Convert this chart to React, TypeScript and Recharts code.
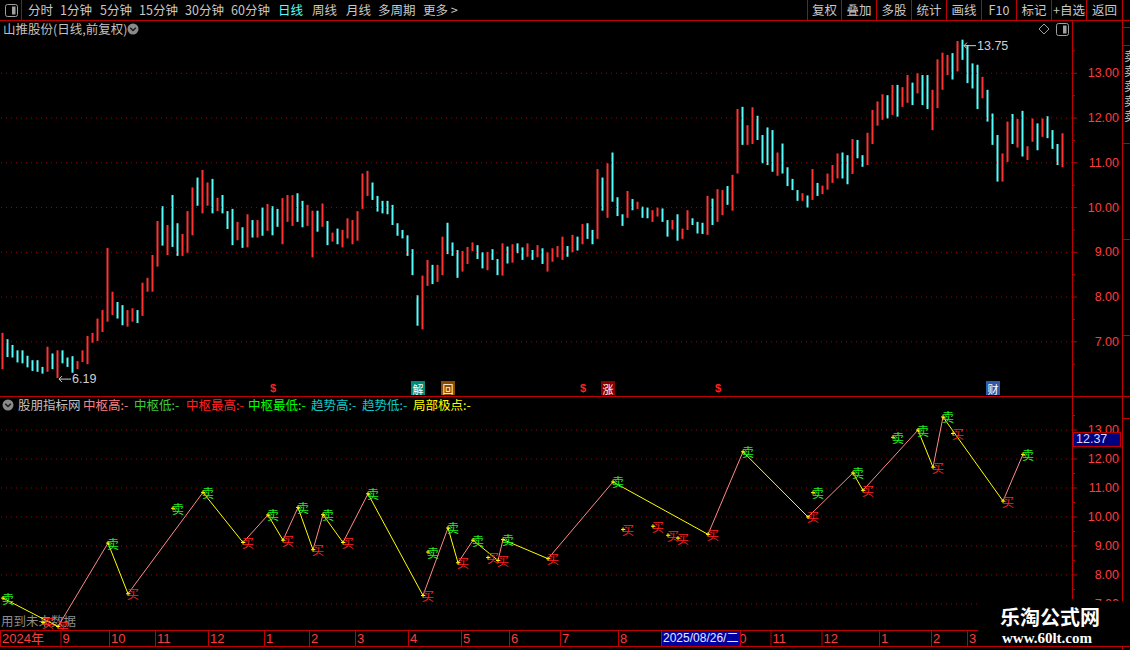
import React from 'react';
import { Bar, ComposedChart, Line, ReferenceLine, Scatter, XAxis, YAxis } from 'recharts';

// daily bars, two trading days per slot
const highs = [
  7.2, 7.06, 6.93, 6.81, 6.81, 6.69, 6.59, 6.59, 6.44, 6.89,
  6.74, 6.81, 6.81, 6.65, 6.68, 6.57, 6.81, 7.13, 7.2, 7.52,
  7.71, 9.1, 8.12, 7.89, 7.82, 7.71, 7.75, 7.71, 8.32, 8.43,
  8.94, 9.7, 10.03, 9.61, 10.28, 9.65, 9.41, 9.92, 10.45, 10.67,
  10.84, 10.56, 10.64, 10.22, 10.28, 9.92, 9.97, 9.68, 9.56, 9.85,
  9.72, 9.72, 10.0, 10.08, 10.03, 9.97, 10.21, 10.28, 10.28, 10.32,
  10.15, 10.06, 9.93, 9.93, 10.09, 9.7, 9.44, 9.53, 9.5, 9.76,
  9.72, 9.92, 10.76, 10.82, 10.56, 10.26, 10.15, 10.15, 10.06, 9.65,
  9.5, 9.38, 9.07, 8.04, 8.48, 8.83, 8.72, 8.72, 9.35, 9.66,
  9.22, 9.05, 9.03, 9.12, 9.22, 9.16, 9.0, 9.01, 9.07, 8.85,
  9.2, 9.13, 9.18, 9.2, 9.11, 9.2, 9.05, 9.16, 9.09, 9.0,
  9.09, 9.14, 9.35, 9.14, 9.39, 9.35, 9.63, 9.65, 9.5, 10.86,
  10.67, 10.99, 11.23, 10.23, 9.85, 10.37, 10.19, 10.13, 10.02, 10.0,
  9.94, 10.0, 9.98, 9.72, 9.72, 9.85, 9.53, 9.94, 9.76, 9.68,
  9.66, 10.26, 10.2, 10.41, 10.39, 10.48, 10.73, 12.2, 12.25, 11.84,
  12.24, 12.05, 11.62, 11.79, 11.73, 11.23, 11.43, 10.9, 10.64, 10.39,
  10.32, 10.27, 10.86, 10.55, 10.49, 10.76, 10.95, 11.21, 11.23, 11.17,
  11.53, 11.51, 11.17, 11.67, 12.18, 12.37, 12.53, 12.51, 12.74, 12.74,
  12.69, 12.96, 12.79, 13.0, 12.96, 12.96, 12.63, 13.31, 13.46, 13.41,
  13.45, 13.72, 13.75, 13.63, 13.22, 13.19, 12.92, 12.63, 12.1, 11.62,
  11.21, 11.92, 12.09, 11.98, 12.16, 11.37, 11.99, 11.88, 11.99, 12.04,
  11.73, 11.42, 11.66,
];

const lows = [
  6.39, 6.66, 6.65, 6.54, 6.52, 6.43, 6.35, 6.33, 6.29, 6.33,
  6.39, 6.19, 6.52, 6.44, 6.31, 6.39, 6.55, 6.5, 6.98, 7.02,
  7.22, 7.45, 7.6, 7.52, 7.37, 7.34, 7.45, 7.42, 7.58, 8.12,
  8.12, 8.68, 9.15, 8.94, 9.12, 8.92, 8.92, 8.99, 9.38, 10.04,
  9.87, 10.04, 9.87, 9.92, 9.87, 9.52, 9.16, 9.27, 9.1, 9.11,
  9.33, 9.33, 9.37, 9.48, 9.38, 9.57, 9.18, 9.68, 9.59, 9.68,
  9.56, 9.59, 8.89, 9.46, 9.57, 9.16, 9.24, 9.18, 9.11, 9.31,
  9.18, 9.26, 9.97, 10.26, 10.17, 9.91, 9.87, 9.85, 9.61, 9.37,
  9.31, 8.92, 8.49, 7.36, 7.28, 8.25, 8.29, 8.34, 8.49, 8.96,
  8.92, 8.43, 8.57, 8.74, 9.03, 8.85, 8.64, 8.6, 8.83, 8.49,
  8.48, 8.75, 8.77, 8.98, 8.83, 8.9, 8.83, 8.89, 8.74, 8.57,
  8.79, 8.89, 8.83, 8.9, 9.0, 9.04, 9.18, 9.3, 9.18, 9.3,
  9.93, 9.77, 10.13, 9.81, 9.59, 9.77, 9.94, 9.97, 9.77, 9.76,
  9.68, 9.8, 9.68, 9.35, 9.51, 9.26, 9.3, 9.5, 9.61, 9.42,
  9.41, 9.39, 9.61, 9.68, 9.83, 10.06, 9.93, 10.76, 11.4, 11.4,
  11.42, 11.51, 10.99, 10.95, 10.8, 10.71, 10.76, 10.48, 10.39, 10.15,
  10.15, 10.0, 10.17, 10.26, 10.3, 10.4, 10.55, 10.65, 10.65, 10.52,
  10.75, 11.1, 10.91, 10.95, 11.42, 11.83, 11.96, 11.99, 12.07, 12.03,
  12.25, 12.34, 12.29, 12.55, 12.29, 12.2, 11.73, 12.22, 12.63, 12.96,
  12.86, 13.04, 13.3, 12.78, 12.66, 12.2, 12.44, 11.92, 11.4, 10.58,
  10.58, 11.02, 11.42, 11.34, 11.14, 11.06, 11.47, 11.28, 11.58, 11.55,
  11.31, 10.95, 10.9,
];

const closes = [
  6.9, 6.72, 6.7, 6.58, 6.55, 6.48, 6.42, 6.4, 6.33, 6.75,
  6.45, 6.7, 6.6, 6.55, 6.4, 6.52, 6.65, 7.05, 7.1, 7.45,
  7.55, 7.9, 7.9, 7.75, 7.5, 7.55, 7.65, 7.45, 8.2, 8.2,
  8.8, 9.6, 9.4, 9.5, 9.4, 9.0, 9.15, 9.8, 10.3, 10.15,
  10.4, 10.45, 10.0, 10.1, 9.95, 9.65, 9.25, 9.6, 9.2, 9.75,
  9.4, 9.65, 9.45, 9.95, 9.9, 9.6, 10.1, 10.15, 10.2, 9.75,
  9.62, 9.65, 9.8, 9.6, 9.7, 9.2, 9.26, 9.22, 9.4, 9.45,
  9.6, 9.85, 10.5, 10.7, 10.22, 10.05, 10.0, 9.9, 9.65, 9.45,
  9.4, 9.05, 8.55, 7.45, 8.3, 8.6, 8.35, 8.6, 9.2, 9.05,
  9.0, 8.6, 8.75, 9.0, 9.07, 8.9, 8.7, 8.95, 8.88, 8.55,
  9.05, 8.85, 9.05, 9.0, 8.87, 9.1, 8.88, 9.1, 8.8, 8.9,
  8.92, 8.95, 9.2, 9.1, 9.3, 9.25, 9.5, 9.4, 9.25, 10.5,
  10.3, 10.6, 10.3, 9.85, 9.8, 10.25, 10.0, 10.02, 9.85, 9.78,
  9.8, 9.95, 9.7, 9.4, 9.58, 9.35, 9.48, 9.75, 9.7, 9.5,
  9.48, 10.1, 9.75, 10.1, 10.25, 10.15, 10.6, 11.9, 11.5, 11.7,
  11.72, 11.55, 11.2, 11.05, 10.85, 11.05, 10.9, 10.55, 10.42, 10.2,
  10.22, 10.15, 10.75, 10.35, 10.42, 10.65, 10.75, 11.0, 10.9, 10.65,
  11.4, 11.2, 10.95, 11.55, 12.0, 12.25, 12.4, 12.05, 12.3, 12.1,
  12.45, 12.85, 12.4, 12.95, 12.85, 12.3, 12.4, 13.1, 13.2, 13.3,
  12.95, 13.55, 13.35, 12.85, 12.75, 12.3, 12.5, 12.0, 11.55, 10.7,
  11.1, 11.85, 11.6, 11.7, 11.2, 11.22, 11.7, 11.6, 11.75, 11.65,
  11.45, 11.0, 11.4,
];

// zigzag turning points of the lower indicator (sell, buy, sell, ...)
const pivotIdx = [0, 11, 21, 25, 40, 48, 53, 56, 59, 62, 64, 68, 73, 84, 89, 91, 94, 99, 100, 109, 122, 141, 148, 161, 170, 172, 183, 186, 188, 200, 204];
const pivotVal = [7.2, 6.22, 9.1, 7.35, 10.85, 9.12, 10.07, 9.2, 10.33, 8.87, 10.08, 9.12, 10.8, 7.29, 9.62, 8.42, 9.2, 8.5, 9.22, 8.56, 11.21, 9.4, 12.25, 10.0, 11.52, 10.92, 13.0, 11.72, 13.45, 10.55, 12.16];

// loose signals off the zigzag
const markIdx = [8, 34, 85, 97, 124, 130, 133, 135, 162, 178, 190];
const markVal = [6.36, 10.3, 8.79, 8.6, 9.57, 9.68, 9.37, 9.27, 10.84, 12.75, 12.88];
const markType = ['买', '卖', '卖', '买', '买', '买', '买', '买', '卖', '卖', '买'];

const monthPos = [-0.6, 11.5, 21.2, 30.4, 41, 52.2, 61.2, 70.4, 81, 91.6, 101.2, 111.4, 123, 145.4, 153.5, 163.7, 175.2, 185.6, 192.8];
const monthLbl = ['2024年', '9', '10', '11', '12', '1', '2', '3', '4', '5', '6', '7', '8', '10', '11', '12', '1', '2', '3'];

const eventIdx = [54, 83, 89, 116, 121, 143, 198];
const eventTxt = ['$', '解', '回', '$', '涨', '$', '财'];

const priceTicks = [6.5, 7, 7.5, 8, 8.5, 9, 9.5, 10, 10.5, 11, 11.5, 12, 12.5, 13, 13.5];
const indTicks = [6.5, 7, 7.5, 8, 8.5, 9, 9.5, 10, 10.5, 11, 11.5, 12, 12.5, 13, 13.5];
const gridLevels = [7, 8, 9, 10, 11, 12, 13];

const RED = '#ff3232';
const CYAN = '#54fcfc';
const FRAME = '#c00000';
const GRID = '#a00000';
const AXIS_TXT = '#ff3c3c';
const AXIS_X = 1072;
const BOT_H = 250;
const DATE_H = 17;
const X_DOMAIN: [number, number] = [-0.6, 213.8];
const TOP_DOMAIN: [number, number] = [5.79, 13.81];
const BOT_DOMAIN: [number, number] = [6.1, 14.14];
const CJK = '"Noto Sans CJK SC", "DejaVu Sans", sans-serif';
const NUM = '"Liberation Sans", Arial, sans-serif';

const candleRows = highs.map((h, i) => ({
  i,
  range: [lows[i], h],
  color: i === 0 || closes[i] >= closes[i - 1] ? RED : CYAN,
}));

const segRows: Record<string, number>[] = highs.map((_, i) => ({ i }));
pivotIdx.forEach((idx, k) => {
  if (k > 0) segRows[idx]['s' + (k - 1)] = pivotVal[k];
  if (k < pivotIdx.length - 1) segRows[idx]['s' + k] = pivotVal[k];
});
const segKeys = pivotIdx.slice(0, -1).map((_, k) => 's' + k);

const tradeMarks = [
  ...pivotIdx.map((i, k) => ({ i, v: pivotVal[k], t: k % 2 === 0 ? '卖' : '买' })),
  ...markIdx.map((i, k) => ({ i, v: markVal[k], t: markType[k] })),
];

const maxHigh = Math.max(...highs);
const minLow = Math.min(...lows);
const extremes = [
  { i: lows.indexOf(minLow), v: minLow, top: false },
  { i: highs.indexOf(maxHigh), v: maxHigh, top: true },
];

const events = eventIdx.map((i, k) => ({ i, v: TOP_DOMAIN[0], t: eventTxt[k] }));

const Candle = (p: any) => (
  <rect x={p.x} y={p.y} width={p.width} height={Math.max(1, p.height)} fill={p.payload.color} />
);

const PriceTick = (p: any) => {
  const v = p.payload.value;
  const major = Number.isInteger(v);
  return (
    <g>
      <line x1={AXIS_X} x2={AXIS_X + (major ? 5 : 3)} y1={p.y} y2={p.y} stroke={FRAME} />
      {major && (
        <text x={1119} y={p.y} textAnchor="end" dominantBaseline="central" fill={AXIS_TXT} fontSize={12.5} fontFamily={NUM}>
          {v.toFixed(2)}
        </text>
      )}
    </g>
  );
};

// month separators on the date strip (coordinates inside the lower chart)
const MonthTick = (p: any) => {
  const k = monthPos.indexOf(p.payload.value);
  const top = BOT_H - DATE_H;
  return (
    <g>
      <line x1={p.x + 0.5} x2={p.x + 0.5} y1={top} y2={top + 16} stroke={FRAME} />
      <text x={p.x + 2} y={top + 13} fill={AXIS_TXT} fontSize={13} fontFamily={NUM + ', ' + CJK}>
        {monthLbl[k]}
      </text>
    </g>
  );
};

const TradeMark = (p: any) => {
  const { cx, cy, payload } = p;
  const sell = payload.t === '卖';
  return (
    <g>
      <text x={cx - 1} y={cy} dominantBaseline="central" fontSize={12} fontFamily={CJK} fill={sell ? '#22ee22' : '#ff2222'}>
        {payload.t}
      </text>
      <path d={`M${cx - 2},${cy}H${cx + 2}M${cx},${cy - 2}V${cy + 2}`} stroke="#ffff00" strokeWidth={1} />
    </g>
  );
};

const ExtremeMark = (p: any) => {
  const { cx, cy, payload } = p;
  const y = cy + (payload.top ? 6 : 1);
  return (
    <g>
      <path d={`M${cx + 1},${y}H${cx + 13}M${cx + 1},${y}l3,-3M${cx + 1},${y}l3,3`} stroke="#d0d0d0" strokeWidth={1} fill="none" />
      <text x={cx + 14} y={y} dominantBaseline="central" fill="#d0d0d0" fontSize={12.5} fontFamily={NUM}>
        {payload.v.toFixed(2)}
      </text>
    </g>
  );
};

const boxColor: Record<string, string> = { 解: '#008a7a', 回: '#8a4a00', 涨: '#8a0000', 财: '#2a5cb0' };

const EventMark = (p: any) => {
  const { cx, cy, payload } = p;
  const y = cy - 8;
  if (payload.t === '$') {
    return (
      <text x={cx} y={y} textAnchor="middle" dominantBaseline="central" fill="#ff2020" fontSize={11} fontWeight="bold" fontFamily={NUM}>
        $
      </text>
    );
  }
  return (
    <g>
      <rect x={cx - 7} y={y - 7} width={14} height={14} fill={boxColor[payload.t]} />
      <text x={cx} y={y + 0.5} textAnchor="middle" dominantBaseline="central" fill="#ffffff" fontSize={11} fontFamily={CJK}>
        {payload.t}
      </text>
    </g>
  );
};

const abs = (left: number, top: number, extra: React.CSSProperties = {}): React.CSSProperties => ({
  position: 'absolute',
  left,
  top,
  ...extra,
});

const menuLeft = [
  { t: '分时', x: 28 },
  { t: '1分钟', x: 60 },
  { t: '5分钟', x: 100 },
  { t: '15分钟', x: 139 },
  { t: '30分钟', x: 185 },
  { t: '60分钟', x: 231 },
  { t: '日线', x: 278, c: '#55ffff' },
  { t: '周线', x: 312 },
  { t: '月线', x: 346 },
  { t: '多周期', x: 378 },
  { t: '更多 >', x: 423 },
];
const menuCuts = [807, 841, 876, 911, 946, 981, 1016, 1051, 1086, 1122];
const menuRight = ['复权', '叠加', '多股', '统计', '画线', 'F10', '标记', '+自选', '返回'];

const legend = [
  { t: '中枢高:-', x: 83, c: '#ff8080' },
  { t: '中枢低:-', x: 134, c: '#3ccc3c' },
  { t: '中枢最高:-', x: 186, c: '#ff2020' },
  { t: '中枢最低:-', x: 248, c: '#00ff00' },
  { t: '趋势高:-', x: 311, c: '#10c8c8' },
  { t: '趋势低:-', x: 362, c: '#10c8c8' },
  { t: '局部极点:-', x: 413, c: '#ffff00' },
];

const PanelIcon = ({ x, y }: { x: number; y: number }) => (
  <svg style={abs(x, y)} width={13} height={13}>
    <rect x={0.5} y={0.5} width={12} height={12} rx={2} fill="none" stroke="#a0a0a0" />
    <rect x={7} y={2.5} width={3.5} height={8} fill="#a0a0a0" />
  </svg>
);

const DownCircle = ({ x, y }: { x: number; y: number }) => (
  <svg style={abs(x, y)} width={12} height={12}>
    <circle cx={6} cy={6} r={5.5} fill="#8a8a8a" />
    <path d="M3.2,4.8 L6,7.6 L8.8,4.8" stroke="#1a1a1a" strokeWidth={1.4} fill="none" />
  </svg>
);

export default function App() {
  return (
    <div style={{ position: 'absolute', left: 0, top: 0, width: 1130, height: 650, background: '#000', overflow: 'hidden', fontFamily: CJK, fontSize: 12 }}>
      {/* toolbar */}
      <div style={abs(0, 0, { width: 22, height: 20, borderRight: `1px solid ${FRAME}`, boxSizing: 'border-box' })} />
      <PanelIcon x={5} y={4} />
      {menuLeft.map((m) => (
        <div key={m.t} style={abs(m.x, 2, { color: m.c || '#c8c8c8', fontSize: 12.5, lineHeight: '16px', whiteSpace: 'nowrap' })}>
          {m.t}
        </div>
      ))}
      {menuCuts.map((x) => (
        <div key={x} style={abs(x, 0, { width: 1, height: 20, background: FRAME })} />
      ))}
      {menuRight.map((t, k) => (
        <div
          key={t}
          style={abs(menuCuts[k] + 1, 2, { width: menuCuts[k + 1] - menuCuts[k] - 1, textAlign: 'center', color: '#c8c8c8', fontSize: 12.5, lineHeight: '16px', whiteSpace: 'nowrap' })}
        >
          {t}
        </div>
      ))}
      <div style={abs(0, 20, { width: 1130, height: 1, background: FRAME })} />

      {/* price panel title */}
      <div style={abs(3, 21, { color: '#c0c0c0', fontSize: 12.5, lineHeight: '16px' })}>山推股份(日线,前复权)</div>
      <DownCircle x={127} y={23} />
      <svg style={abs(1038, 23)} width={12} height={12}>
        <path d="M6,1 L11,6 L6,11 L1,6 Z" fill="none" stroke="#a0a0a0" />
      </svg>
      <PanelIcon x={1056} y={23} />

      <div style={abs(0, 37)}>
        <ComposedChart width={1122} height={359} data={candleRows} margin={{ top: 0, right: 0, bottom: 0, left: 0 }}>
          <XAxis hide type="number" dataKey="i" domain={X_DOMAIN} allowDataOverflow />
          <YAxis
            orientation="right"
            width={50}
            domain={TOP_DOMAIN}
            allowDataOverflow
            ticks={priceTicks}
            interval={0}
            axisLine={false}
            tickLine={false}
            tick={(p: any) => <PriceTick {...p} />}
          />
          {gridLevels.map((v) => (
            <ReferenceLine key={v} y={v} stroke={GRID} strokeDasharray="1 4" />
          ))}
          <Bar dataKey="range" barSize={2} shape={(p: any) => <Candle {...p} />} isAnimationActive={false} />
          <Scatter data={extremes} dataKey="v" shape={(p: any) => <ExtremeMark {...p} />} isAnimationActive={false} />
          <Scatter data={events} dataKey="v" shape={(p: any) => <EventMark {...p} />} isAnimationActive={false} />
        </ComposedChart>
      </div>

      <div style={abs(0, 396, { width: 1130, height: 1, background: FRAME })} />

      {/* indicator panel */}
      <DownCircle x={2} y={399} />
      <div style={abs(18, 397, { color: '#c0c0c0', fontSize: 12.5, lineHeight: '16px' })}>股朋指标网</div>
      {legend.map((l) => (
        <div key={l.t} style={abs(l.x, 397, { color: l.c, fontSize: 12.5, lineHeight: '16px', whiteSpace: 'nowrap' })}>
          {l.t}
        </div>
      ))}
      <div style={abs(1, 613, { color: '#8c8c8c', fontSize: 12.5, lineHeight: '16px' })}>用到未来数据</div>

      <div style={abs(0, 397)}>
        <ComposedChart width={1122} height={BOT_H} data={segRows} margin={{ top: 0, right: 0, bottom: 0, left: 0 }}>
          <XAxis
            type="number"
            dataKey="i"
            domain={X_DOMAIN}
            allowDataOverflow
            height={DATE_H}
            ticks={monthPos}
            interval={0}
            axisLine={false}
            tickLine={false}
            tickSize={0}
            tick={(p: any) => <MonthTick {...p} />}
          />
          <YAxis
            orientation="right"
            width={50}
            domain={BOT_DOMAIN}
            allowDataOverflow
            ticks={indTicks}
            interval={0}
            axisLine={false}
            tickLine={false}
            tick={(p: any) => <PriceTick {...p} />}
          />
          {gridLevels.map((v) => (
            <ReferenceLine key={v} y={v} stroke={GRID} strokeDasharray="1 4" />
          ))}
          {segKeys.map((key, k) => (
            <Line
              key={key}
              dataKey={key}
              stroke={k % 2 === 0 ? '#ffff00' : '#ff8a8a'}
              strokeWidth={1}
              dot={false}
              connectNulls
              isAnimationActive={false}
            />
          ))}
          <Scatter data={tradeMarks} dataKey="v" shape={(p: any) => <TradeMark {...p} />} isAnimationActive={false} />
        </ComposedChart>
      </div>

      {/* frame lines */}
      <div style={abs(AXIS_X, 20, { width: 1, height: 579, background: FRAME })} />
      <div style={abs(1122, 20, { width: 1, height: 630, background: FRAME })} />
      <div style={abs(0, 630, { width: 978, height: 1, background: FRAME })} />
      <div style={abs(0, 646, { width: 1130, height: 1, background: FRAME })} />
      {[27, 45, 143, 239, 335, 418].map((y) => (
        <div key={y} style={abs(1122, y, { width: 8, height: 1, background: FRAME })} />
      ))}
      <div style={abs(1124, 48, { width: 6, height: 90, overflow: 'hidden', color: '#c8c8c8', fontSize: 12, lineHeight: '15px' })}>
        <div style={{ width: 14 }}>卖卖卖卖卖</div>
      </div>

      <div style={abs(1073, 432, { width: 48, height: 15, background: '#000080', border: `1px solid ${FRAME}`, boxSizing: 'border-box', color: '#d8d8ff', fontFamily: NUM, fontSize: 12.5, lineHeight: '13px', paddingLeft: 2 })}>
        12.37
      </div>

      <div style={abs(661, 631, { width: 80, height: 15, background: '#0000a0', borderLeft: `1px solid ${FRAME}`, borderRight: `1px solid ${FRAME}`, boxSizing: 'border-box', color: '#e8e8ff', fontFamily: NUM + ', ' + CJK, fontSize: 12, lineHeight: '15px', paddingLeft: 1, whiteSpace: 'nowrap' })}>
        2025/08/26/二
      </div>

      {/* watermark */}
      <div style={abs(978, 601, { width: 152, height: 45, background: '#000' })}>
        <div style={abs(22, 4, { color: '#fff', fontWeight: 'bold', fontSize: 20, lineHeight: '24px', whiteSpace: 'nowrap' })}>乐淘公式网</div>
        <div style={abs(24, 29, { color: '#fff', fontWeight: 'bold', fontSize: 15, lineHeight: '16px', fontFamily: '"Liberation Serif", "DejaVu Serif", serif', whiteSpace: 'nowrap' })}>
          www.60lt.com
        </div>
      </div>
    </div>
  );
}
